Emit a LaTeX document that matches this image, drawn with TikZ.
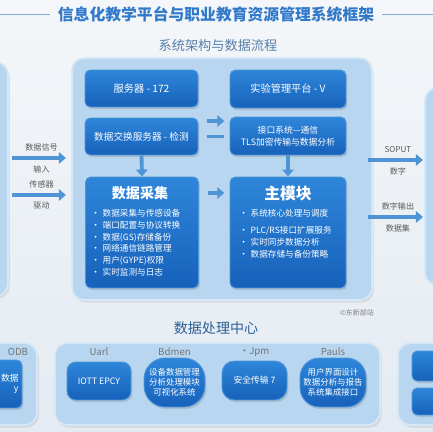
\documentclass[tikz,border=0pt]{standalone}
\usepackage{fontspec}
\setmainfont{Noto Sans CJK SC}
\usetikzlibrary{positioning,shadows,arrows.meta}

\definecolor{bgtop}{HTML}{F4F6F9}
\definecolor{bgbot}{HTML}{E4EBF2}
\definecolor{panelblue}{HTML}{B9D6F0}
\definecolor{paneledge}{HTML}{D6E8F7}
\definecolor{boxtop}{HTML}{2E86D9}
\definecolor{boxbot}{HTML}{1761BB}
\definecolor{boxedge}{HTML}{4C95DB}
\definecolor{arrowblue}{HTML}{4F95D6}
\definecolor{titleblue}{HTML}{3179C9}
\definecolor{headblue}{HTML}{2D5F96}

\begin{document}
\begin{tikzpicture}[x=0.02cm,y=-0.02cm,
  panel/.style={draw=paneledge,line width=1pt,fill=panelblue,rounded corners=7pt,inner sep=0pt,
    drop shadow={opacity=0.18,shadow xshift=1pt,shadow yshift=-1.5pt}},
  darkbox/.style={draw=boxedge,line width=0.5pt,top color=boxtop,bottom color=boxbot,rounded corners=3pt,
    inner sep=1pt,text=white,align=center,font=\fontsize{5.8}{7}\selectfont,
    drop shadow={opacity=0.3,shadow xshift=0.8pt,shadow yshift=-1.2pt}},
  boxtitle/.style={text=white,inner sep=0pt,font=\fontsize{8}{9}\selectfont\bfseries},
  bullets/.style={text=white,inner sep=0pt,align=left,text width=1.95cm,font=\fontsize{4.9}{6.7}\selectfont},
  flow/.style={draw=arrowblue,line width=2.2pt,-{Triangle[length=4pt,width=6.5pt]}},
  bar/.style={draw=arrowblue,line width=2.2pt},
  side/.style={inner sep=0pt,text=black!65,font=\fontsize{4.6}{5}\selectfont},
  sublabel/.style={inner sep=0pt,text=black!55,font=\fontsize{5.5}{6}\selectfont},
  rule/.style={draw=titleblue!60,line width=0.5pt}]

\useasboundingbox (0,0) rectangle (433,432);
\clip (0,0) rectangle (433,432);
\shade[top color=bgtop,bottom color=bgbot] (0,0) rectangle (433,432);

% heading
\node[inner sep=0pt,text=titleblue,font=\fontsize{9}{10}\selectfont\bfseries] (title) at (216,14)
  {信息化教学平台与职业教育资源管理系统框架};
\draw[rule,shorten >=4pt] (0,14) -- (title.west);
\draw[rule,shorten <=4pt] (title.east) -- (433,14);
\node[inner sep=0pt,text=headblue!80,font=\fontsize{7.5}{8}\selectfont] (subtitle) at (218,45)
  {系统架构与数据流程};

% side panels
\node[panel,minimum width=1cm,minimum height=4.68cm] (lpanel) at (-17,179) {};
\node[panel,minimum width=1cm,minimum height=3.94cm] (rpanel) at (450,186.5) {};

% main panel
\node[panel,minimum width=6cm,minimum height=4.84cm] (main) at (222,179) {};

\node[darkbox,minimum width=2.26cm,minimum height=0.74cm] (tl) at (141.5,88.5) {服务器 - 172};
\node[darkbox,minimum width=2.32cm,minimum height=0.76cm] (tr) at (288,89) {实验管理平台 - V};
\node[darkbox,minimum width=2.26cm,minimum height=0.74cm,font=\fontsize{5.5}{6.5}\selectfont] (ml) at (141.5,136.5)
  {数据交换服务器 - 检测};
\node[darkbox,minimum width=2.32cm,minimum height=0.76cm,font=\fontsize{5}{6.5}\selectfont] (mr) at (288,136)
  {接口系统—通信\\TLS加密传输与数据分析};

\node[darkbox,minimum width=2.26cm,minimum height=2.22cm] (bigl) at (142,232.5) {};
\node[darkbox,minimum width=2.32cm,minimum height=2.22cm] (bigr) at (288,232.5) {};
\node[boxtitle] (bigltitle) at (140,193) {数据采集};
\node[boxtitle,font=\fontsize{9}{10}\selectfont\bfseries] (bigrtitle) at (288,193) {主模块};
\node[bullets,below=5pt of bigltitle] (bulletl)
  {• 数据采集与传感设备\\• 端口配置与协议转换\\• 数据(GS)存储备份\\• 网络通信链路管理\\• 用户(GYPE)权限\\• 实时监测与日志};
\node[bullets,anchor=north] (bulletr) at (288,209)
  {• 系统核心处理与调度\\[3pt]• PLC/RS接口扩展服务\\• 实时同步数据分析\\• 数据存储与备份策略};

\draw[flow,shorten <=5pt,shorten >=3pt] ([yshift=8.8pt]ml.east) -- ([yshift=8.8pt]ml.east -| mr.west);
\draw[bar,shorten <=5pt,shorten >=3pt] (ml.east) -- (ml.east -| mr.west);
\draw[flow] (ml.south) -- (bigl.north);
\draw[flow] (mr.south) -- (bigr.north);
\draw[flow,shorten <=5pt,shorten >=3pt] (bigl.east |- bigltitle) -- (bigr.west |- bigltitle);

% inputs
\coordinate (in1) at (12,158);
\coordinate (in2) at (12,195);
\draw[flow,shorten >=3pt] (in1) -- (in1 -| main.west)
  node[side,midway,above=3pt] (in1top) {数据信号} node[side,midway,below=3pt] (in1bot) {输入};
\draw[flow,shorten >=3pt] (in2) -- (in2 -| main.west)
  node[side,midway,above=3pt] (in2top) {传感器} node[side,midway,below=3pt] (in2bot) {驱动};

% outputs
\coordinate (out1) at (423,160);
\coordinate (out2) at (423,217);
\draw[flow,shorten <=-3pt] (out1 -| main.east) -- (out1)
  node[side,midway,above=3pt] (out1top) {SOPUT} node[side,midway,below=3pt] (out1bot) {数字};
\draw[flow,shorten <=-3pt] (out2 -| main.east) -- (out2)
  node[side,midway,above=3pt] (out2top) {数字输出} node[side,midway,below=3pt] (out2bot) {数据集};

% lower part
\node[inner sep=0pt,text=black!50,font=\fontsize{4}{4}\selectfont] (credit) at (357,313) {©东新部站};
\node[inner sep=0pt,text=headblue,font=\fontsize{8}{9}\selectfont] (lowhead) at (216,328) {数据处理中心};

\node[panel,minimum width=1.14cm,minimum height=1.64cm] (lbpanel) at (8.5,384) {};
\node[panel,minimum width=6.5cm,minimum height=1.64cm] (bpanel) at (217.5,384) {};
\node[panel,minimum width=1.24cm,minimum height=1.64cm] (rbpanel) at (429,384) {};

\node[darkbox,minimum width=0.74cm,minimum height=0.96cm] (dbbox) at (3.5,384) {};
\node[inner sep=0pt,text=white,align=right,anchor=east,font=\fontsize{5}{6}\selectfont] (dbtext)
  at ([xshift=-2pt]dbbox.east) {数据\\y};
\node[darkbox,minimum width=0.96cm,minimum height=0.6cm] (rb1) at (436,366) {};
\node[darkbox,minimum width=0.96cm,minimum height=0.54cm] (rb2) at (436,401.5) {};

\node[darkbox,minimum width=1.28cm,minimum height=0.76cm,rounded corners=5pt,font=\fontsize{5}{6}\selectfont] (b1) at (99,381)
  {IOTT EPCY};
\node[darkbox,minimum width=1.22cm,minimum height=0.98cm,rounded corners=12pt,font=\fontsize{4.8}{5.8}\selectfont] (b2) at (174.5,382.5)
  {设备数据管理\\分析处理模块\\可视化系统};
\node[darkbox,minimum width=1.3cm,minimum height=0.78cm,rounded corners=7pt,font=\fontsize{5}{6}\selectfont] (b3) at (254.5,380.5)
  {安全传输 7};
\node[darkbox,minimum width=1.32cm,minimum height=0.98cm,rounded corners=11pt,font=\fontsize{4.8}{5.8}\selectfont] (b4) at (333,382.5)
  {用户界面设计\\数据分析与报告\\系统集成接口};

\coordinate (labrow) at (0,352);
\node[sublabel] (l0) at (18,352) {ODB};
\node[sublabel] (l1) at (b1 |- labrow) {Uarl};
\node[sublabel] (l2) at (b2 |- labrow) {Bdmen};
\node[sublabel] (l3) at (b3 |- labrow) {·Jpm};
\node[sublabel] (l4) at (b4 |- labrow) {Pauls};
\end{tikzpicture}
\end{document}
